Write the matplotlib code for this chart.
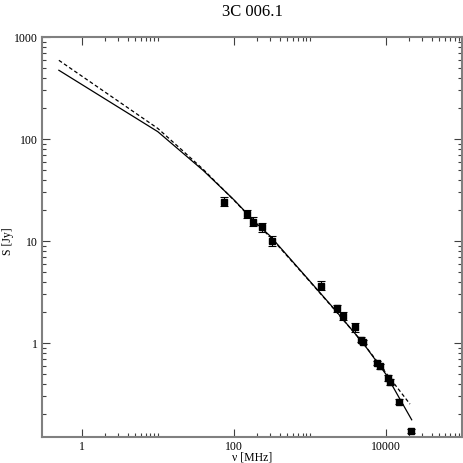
import numpy as np
import matplotlib
matplotlib.use('Agg')
import matplotlib.pyplot as plt
from matplotlib.ticker import FixedLocator, FixedFormatter, NullFormatter

plt.rcParams['font.family'] = ['Liberation Serif', 'DejaVu Serif']

# measured flux densities
freq = [74, 150, 178, 231, 318, 1400, 2250, 2695, 3900, 4750, 5000,
        7550, 8400, 10500, 11200, 14800, 21100]
flux = [24.3, 18.5, 15.5, 13.6, 10.1, 3.65, 2.19, 1.85, 1.43, 1.08, 1.02,
        0.637, 0.59, 0.454, 0.417, 0.266, 0.138]
relerr = [0.10, 0.10, 0.10, 0.10, 0.11, 0.10, 0.08, 0.09, 0.10, 0.05, 0.05,
          0.05, 0.05, 0.06, 0.06, 0.06, 0.05]

# model curves
fitFreq = [0.5, 10, 20, 40, 100, 200, 300, 1000, 2000, 5000, 10000, 15000, 21800]
fitFlux = [472, 118, 75.9, 48.8, 25.4, 14.8, 11.2, 4.04, 2.24, 1.0, 0.494, 0.289, 0.177]
dashFreq = [0.5, 10, 20, 40, 100, 200, 300, 1000, 2000, 5000, 10000, 15000, 20700]
dashFlux = [591, 127, 80, 50, 25.2, 14.6, 11.0, 4.0, 2.22, 1.0, 0.51, 0.344, 0.252]

fig = plt.figure(figsize=(4.63, 4.63), dpi=100)
ax = fig.add_axes([42/463, 26/463, 420/463, 400/463])

ax.plot(fitFreq, fitFlux, color='black', lw=0.9)
ax.plot(dashFreq, dashFlux, color='black', lw=0.9, ls=(0, (3, 2)))
f = np.array(freq)
s = np.array(flux)
e = s * np.array(relerr)
ax.errorbar(f, s, yerr=e, fmt='s', color='black', ms=3.8, capsize=3,
            elinewidth=0.8, capthick=0.8)

ax.set_xscale('log')
ax.set_yscale('log')
ax.set_xlim(0.3, 1e5)
ax.set_ylim(0.12, 1000)

ax.xaxis.set_major_locator(FixedLocator([1, 100, 10000]))
ax.xaxis.set_major_formatter(FixedFormatter(['1', '100', '10000']))
xminor = [m * k for m in (1, 100, 10000) for k in range(2, 11)]
ax.xaxis.set_minor_locator(FixedLocator(xminor))
ax.xaxis.set_minor_formatter(NullFormatter())

ax.yaxis.set_major_locator(FixedLocator([1, 10, 100, 1000]))
ax.yaxis.set_major_formatter(FixedFormatter(['1', '10', '100', '1000']))
yminor = [m * k for m in (0.1, 1, 10, 100) for k in range(2, 10)]
ax.yaxis.set_minor_locator(FixedLocator(yminor))
ax.yaxis.set_minor_formatter(NullFormatter())

ax.tick_params(which='both', direction='in', top=True, right=True,
               labelsize=8.5, color='#404040', pad=3)
ax.tick_params(which='major', length=6, width=0.8)
ax.tick_params(which='minor', length=3, width=0.8)
for sp in ax.spines.values():
    sp.set_color('#808080')
    sp.set_linewidth(1.5)

ax.set_xlabel('ν [MHz]', fontsize=8.5)
ax.xaxis.set_label_coords(0.5, -0.037)
ax.set_ylabel('S [Jy]', fontsize=8.5)
ax.yaxis.set_label_coords(-0.066, 0.49)
ax.set_title('3C 006.1', fontsize=12, pad=15)

fig.savefig('out.png', dpi=100)
